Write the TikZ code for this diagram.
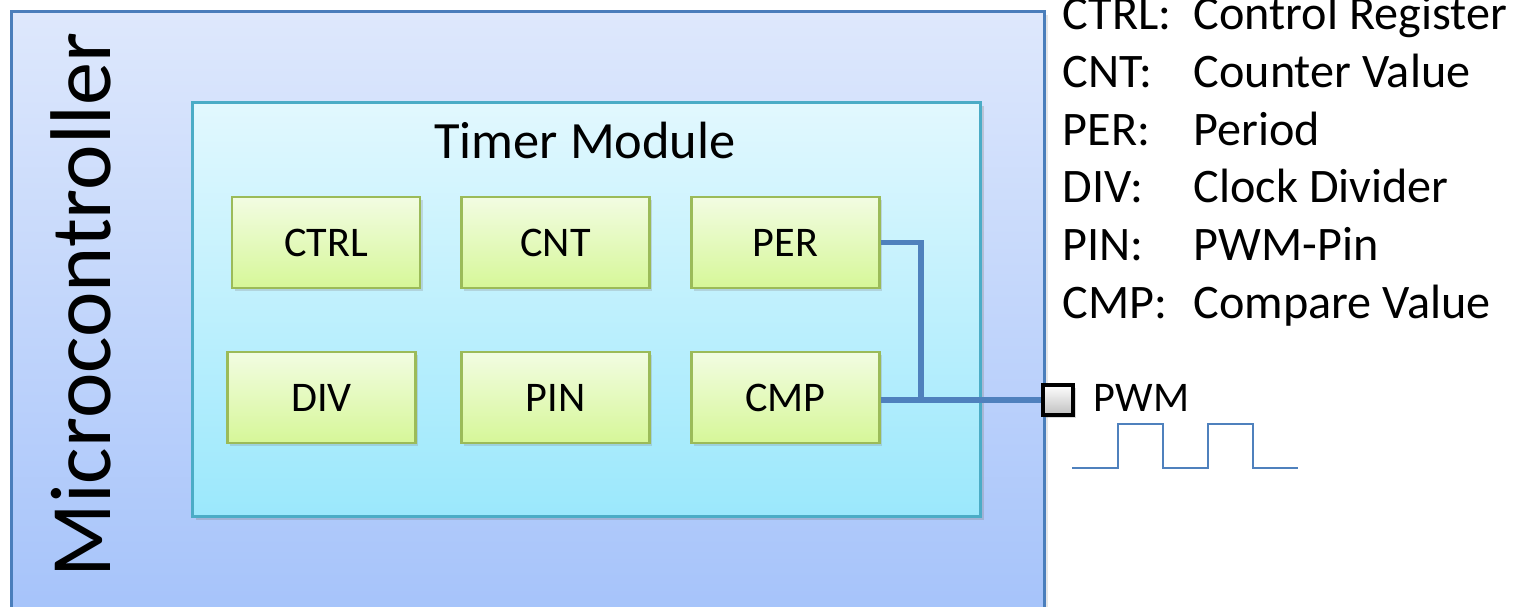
\documentclass[tikz,border=0pt]{standalone}
\usepackage{fontspec}
\setmainfont{Carlito}
\usetikzlibrary{shadows}
\definecolor{outtop}{RGB}{222,232,252}
\definecolor{outbot}{RGB}{164,194,250}
\definecolor{outline}{RGB}{74,126,187}
\definecolor{intop}{RGB}{226,248,254}
\definecolor{inbot}{RGB}{155,232,252}
\definecolor{inline}{RGB}{75,172,198}
\definecolor{regtop}{RGB}{242,252,226}
\definecolor{regbot}{RGB}{214,247,152}
\definecolor{regline}{RGB}{155,187,89}
\definecolor{wire}{RGB}{79,129,189}
\tikzset{
  regbox/.style={draw=regline, line width=0.6pt, top color=regtop, bottom color=regbot,
    minimum width=188*0.01cm, minimum height=91*0.01cm, inner sep=0pt,
    font=\fontsize{12}{14}\selectfont,
    drop shadow={opacity=0.25, shadow xshift=0.8pt, shadow yshift=-0.8pt}},
  legend/.style={anchor=base west, inner sep=0pt, font=\fontsize{13.7}{16}\selectfont},
  wireline/.style={draw=wire, line width=1.6pt},
}
\begin{document}
\begin{tikzpicture}[x=0.01cm, y=-0.01cm]
\useasboundingbox (0,0) rectangle (1516,607);
% outer microcontroller box
\node[draw=outline, line width=0.9pt, top color=outtop, bottom color=outbot,
  minimum width=1033*0.01cm, minimum height=620*0.01cm, inner sep=0pt, anchor=north west,
  drop shadow={opacity=0.2, shadow xshift=1pt, shadow yshift=-1pt}] (mc) at (10,10) {};
\node[rotate=90, anchor=base, inner sep=0pt, font=\fontsize{24.5}{28}\selectfont] (mctext) at (110,305) {Microcontroller};
% timer module
\node[draw=inline, line width=0.8pt, top color=intop, bottom color=inbot,
  minimum width=788*0.01cm, minimum height=414*0.01cm, inner sep=0pt, anchor=north west,
  drop shadow={opacity=0.3, shadow xshift=1pt, shadow yshift=-1pt}] (tm) at (191,101) {};
\node[anchor=base, inner sep=0pt, font=\fontsize{14.9}{17}\selectfont] (tmtext) at (585,159) {Timer Module};
% registers
\node[regbox] (ctrl) at (326,242.5) {CTRL};
\node[regbox] (cnt) at (555.5,242.5) {CNT};
\node[regbox] (per) at (785.5,242.5) {PER};
\node[regbox] (div) at (321.5,397.5) {DIV};
\node[regbox] (pin) at (555.5,397.5) {PIN};
\node[regbox] (cmp) at (785.5,397.5) {CMP};
% PWM pin
\node[draw=black, line width=0.9pt, top color=white, bottom color=black!25,
  minimum width=30*0.01cm, minimum height=30*0.01cm, inner sep=0pt,
  drop shadow={opacity=0.3, shadow xshift=0.8pt, shadow yshift=-0.8pt}] (pwmpin) at (1058,400) {};
\node[anchor=base west, inner sep=0pt, font=\fontsize{12}{14}\selectfont] (pwmtext) at (1093,412) {PWM};
% wires
\coordinate (j) at (921,400);
\draw[wireline] (per.east) -| (j);
\draw[wireline] (cmp.east |- j) -- (pwmpin.west);
% waveform
\coordinate (w0) at (1072,468);
\coordinate (w1) at (1298,468);
\draw[draw=wire, line width=0.6pt] (w0) -- (1118,468) -- (1118,424) -- (1163,424) -- (1163,468)
  -- (1208,468) -- (1208,424) -- (1253,424) -- (1253,468) -- (w1);
% legend
\node[legend] (l1a) at (1062,30) {CTRL:};
\node[legend] (l1b) at (1193,30) {Control Register};
\node[legend] (l2a) at (1062,88) {CNT:};
\node[legend] (l2b) at (1193,88) {Counter Value};
\node[legend] (l3a) at (1062,146) {PER:};
\node[legend] (l3b) at (1193,146) {Period};
\node[legend] (l4a) at (1062,203) {DIV:};
\node[legend] (l4b) at (1193,203) {Clock Divider};
\node[legend] (l5a) at (1062,261) {PIN:};
\node[legend] (l5b) at (1193,261) {PWM-Pin};
\node[legend] (l6a) at (1062,319) {CMP:};
\node[legend] (l6b) at (1193,319) {Compare Value};
\end{tikzpicture}
\end{document}
